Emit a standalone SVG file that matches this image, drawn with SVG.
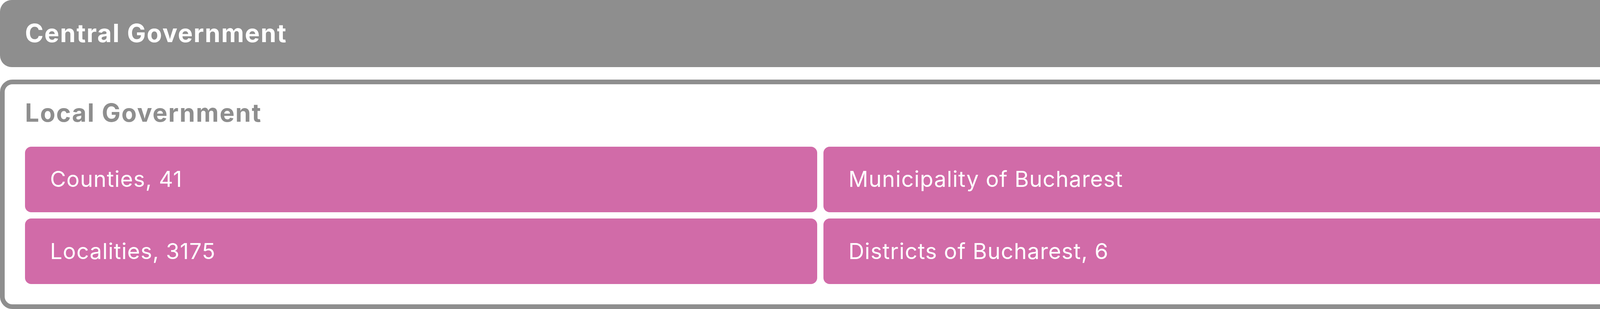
<svg xmlns="http://www.w3.org/2000/svg" width="4200" height="792" viewBox="0 0 4200 792">
<style>
.title{font-family:Inter,"Noto Sans","Liberation Sans",sans-serif;font-weight:700;font-size:64px;letter-spacing:2.2px}
.lbl{font-family:Inter,"Noto Sans","Liberation Sans",sans-serif;font-weight:400;font-size:56px;letter-spacing:1.2px;fill:#ffffff}
.box{fill:#d16ba8}
</style>
<rect width="4200" height="792" fill="#ffffff"/>
<g id="central">
<rect x="0" y="0" width="4200" height="172" rx="30" ry="30" fill="#8e8e8e"/>
<text class="title" x="64" y="108" fill="#ffffff">Central Government</text>
</g>
<g id="local">
<rect x="6" y="210" width="4188" height="576" rx="26" ry="26" fill="#ffffff" stroke="#8e8e8e" stroke-width="12"/>
<text class="title" x="64" y="312" fill="#8e8e8e">Local Government</text>
</g>
<g id="counties">
<rect class="box" x="64" y="376" width="2028" height="168" rx="16" ry="16"/>
<text class="lbl" x="128" y="479">Counties, 41</text>
</g>
<g id="municipality">
<rect class="box" x="2108" y="376" width="2028" height="168" rx="16" ry="16"/>
<text class="lbl" x="2172" y="479">Municipality of Bucharest</text>
</g>
<g id="localities">
<rect class="box" x="64" y="560" width="2028" height="168" rx="16" ry="16"/>
<text class="lbl" x="128" y="664">Localities, 3175</text>
</g>
<g id="districts">
<rect class="box" x="2108" y="560" width="2028" height="168" rx="16" ry="16"/>
<text class="lbl" x="2172" y="664">Districts of Bucharest, 6</text>
</g>
<g id="connectors"></g>
</svg>
